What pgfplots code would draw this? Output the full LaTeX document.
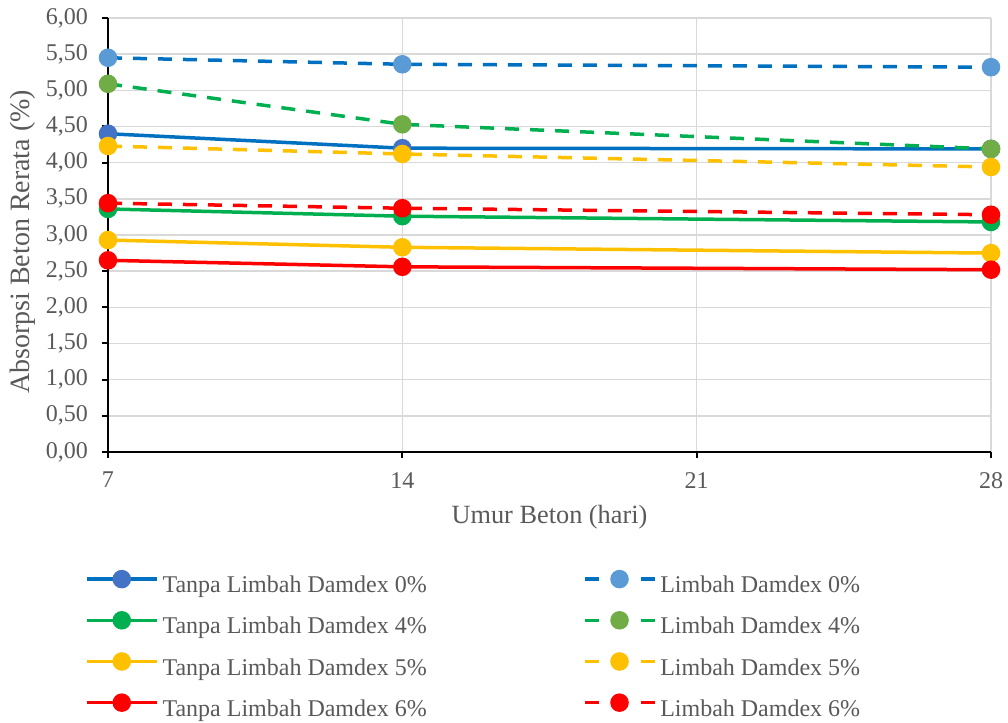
\documentclass[border=0pt]{standalone}
\usepackage{pgfplots}
\pgfplotsset{compat=1.18}
\usepackage{fontspec}
\setmainfont{Liberation Serif}

\definecolor{txtgray}{HTML}{595959}
\definecolor{gridgray}{HTML}{D9D9D9}
\definecolor{blueline}{HTML}{0070C0}
\definecolor{bluemarkA}{HTML}{4472C4}
\definecolor{bluemarkB}{HTML}{5B9BD5}
\definecolor{greenline}{HTML}{00B050}
\definecolor{greenmarkB}{HTML}{70AD47}
\definecolor{yellowline}{HTML}{FFC000}
\definecolor{redline}{HTML}{FF0000}

\pgfplotsset{
  solidentry/.style={
    legend image code/.code={
      \draw[##1, mark=none, yshift=0.32em] (0pt,0pt) -- (70pt,0pt);
      \draw[##1, yshift=0.32em] plot coordinates {(35pt,0pt)};
    }},
  dashentry/.style={
    legend image code/.code={
      \draw[##1, solid, yshift=0.32em, mark=none] (0pt,0pt) -- (14pt,0pt);
      \draw[##1, solid, yshift=0.32em, mark=none] (56pt,0pt) -- (70pt,0pt);
      \draw[##1, yshift=0.32em] plot coordinates {(35pt,0pt)};
    }},
  tanpa/.style={solid, line width=3.5pt, mark=*, mark size=7.5pt,
    mark options={solid, draw=#1, fill=#1}, solidentry},
  limbah/.style={line width=3.5pt, dash pattern=on 14pt off 11pt, mark=*, mark size=7.5pt,
    mark options={solid, draw=#1, fill=#1}, dashentry},
}

\begin{document}
\fontsize{24}{28}\selectfont
\begin{tikzpicture}
\useasboundingbox (0pt,0pt) rectangle (1008pt,722pt);
\begin{axis}[
  at={(108pt,270pt)}, anchor=south west,
  scale only axis, width=883pt, height=434pt,
  xmin=7, xmax=28, ymin=0, ymax=6,
  xtick={7,14,21,28},
  ytick={0,0.5,...,6},
  axis x line*=bottom, axis y line*=left,
  axis line style={black, line width=2.2pt, -},
  grid=major,
  major grid style={gridgray, line width=1.5pt},
  tick style={black, line width=2pt},
  major tick length=6pt, tick align=outside,
  ticklabel style={font=\fontsize{24}{28}\selectfont, text=txtgray},
  yticklabel style={xshift=-6pt, /pgf/number format/.cd, fixed, fixed zerofill, precision=2, use comma, assume math mode=true},
  xticklabel style={yshift=-6pt, /pgf/number format/assume math mode=true},
  xlabel={Umur Beton (hari)},
  ylabel={Absorpsi Beton Rerata (\%)},
  label style={text=txtgray},
  xlabel style={font=\fontsize{26.3}{30}\selectfont, at={(axis description cs:0.5,-0.15)}, anchor=center},
  ylabel style={font=\fontsize{28}{32}\selectfont, at={(axis description cs:-0.096,0.484)}, anchor=center},
  legend columns=4, transpose legend,
  legend cell align=left,
  legend style={draw=none, fill=none, inner sep=0pt, outer sep=0pt,
    at={(axis description cs:-0.026,-0.2756)}, anchor=north west,
    font=\fontsize{24}{28}\selectfont, text=txtgray,
    nodes={inner sep=0pt, text height=17pt, text depth=5pt},
    row sep=15pt, column sep=0pt,
    /tikz/column 1/.style={column sep=4pt},
    /tikz/column 2/.style={column sep=156pt},
    /tikz/column 3/.style={column sep=4pt}},
]
% without Damdex waste (solid)
\addplot[tanpa=bluemarkA, color=blueline] coordinates {(7,4.40) (14,4.20) (28,4.19)};
\addlegendentry{Tanpa Limbah Damdex 0\%}
\addplot[tanpa=greenline, color=greenline] coordinates {(7,3.36) (14,3.26) (28,3.18)};
\addlegendentry{Tanpa Limbah Damdex 4\%}
\addplot[tanpa=yellowline, color=yellowline] coordinates {(7,2.93) (14,2.83) (28,2.75)};
\addlegendentry{Tanpa Limbah Damdex 5\%}
\addplot[tanpa=redline, color=redline] coordinates {(7,2.65) (14,2.56) (28,2.52)};
\addlegendentry{Tanpa Limbah Damdex 6\%}
% with Damdex waste (dashed)
\addplot[limbah=bluemarkB, color=blueline] coordinates {(7,5.45) (14,5.36) (28,5.32)};
\addlegendentry{Limbah Damdex 0\%}
\addplot[limbah=greenmarkB, color=greenline] coordinates {(7,5.09) (14,4.53) (28,4.19)};
\addlegendentry{Limbah Damdex 4\%}
\addplot[limbah=yellowline, color=yellowline] coordinates {(7,4.23) (14,4.12) (28,3.94)};
\addlegendentry{Limbah Damdex 5\%}
\addplot[limbah=redline, color=redline] coordinates {(7,3.44) (14,3.37) (28,3.28)};
\addlegendentry{Limbah Damdex 6\%}
\end{axis}
\end{tikzpicture}
\end{document}
